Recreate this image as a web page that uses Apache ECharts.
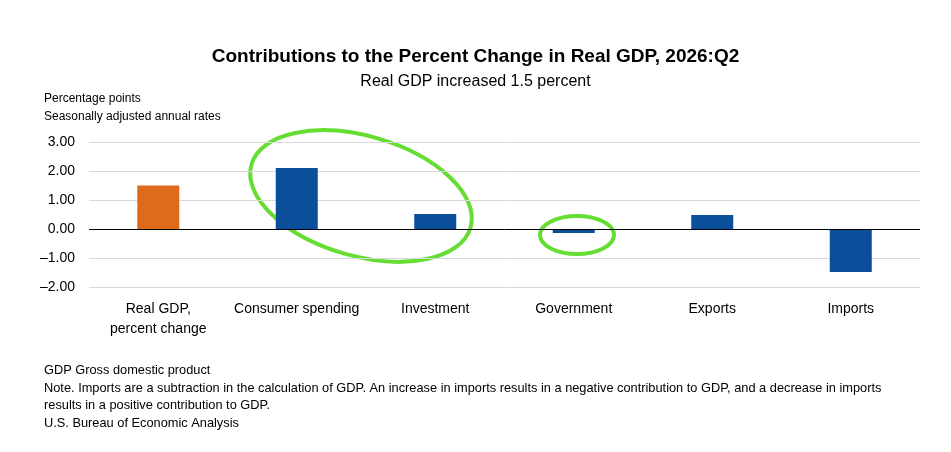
<!DOCTYPE html>
<html><head><meta charset="utf-8">
<script src="https://cdn.jsdelivr.net/npm/echarts@6/dist/echarts.min.js"></script>
<style>html,body{margin:0;padding:0;background:#fff}#c{width:951px;height:452px}</style>
</head><body><div id="c"></div>
<script>
var categories = ['Real GDP,\npercent change', 'Consumer spending', 'Investment', 'Government', 'Exports', 'Imports'];
var values = [1.5, 2.1, 0.52, -0.14, 0.48, -1.48];
var colors = ['#e06a1b', '#0b4f9c', '#0b4f9c', '#0b4f9c', '#0b4f9c', '#0b4f9c'];
var notes = [
  'GDP Gross domestic product',
  'Note. Imports are a subtraction in the calculation of GDP. An increase in imports results in a negative contribution to GDP, and a decrease in imports',
  'results in a positive contribution to GDP.',
  'U.S. Bureau of Economic Analysis'
];
var font = 'Liberation Sans';
var chart = echarts.init(document.getElementById('c'));
chart.setOption({
  backgroundColor: '#fff',
  textStyle: { fontFamily: font },
  title: {
    text: 'Contributions to the Percent Change in Real GDP, 2026:Q2',
    subtext: 'Real GDP increased 1.5 percent',
    left: 'center', top: 42, itemGap: 8,
    textStyle: { fontSize: 19, fontWeight: 'bold', color: '#000', fontFamily: font },
    subtextStyle: { fontSize: 16, color: '#000', fontFamily: font }
  },
  grid: { left: 89, right: 31, top: 142, height: 145 },
  xAxis: {
    type: 'category', data: categories,
    axisLine: { show: false }, axisTick: { show: false },
    axisLabel: { color: '#000', fontSize: 14, margin: 12, lineHeight: 20, interval: 0 }
  },
  yAxis: {
    type: 'value', min: -2, max: 3, interval: 1,
    axisLine: { show: false }, axisTick: { show: false },
    splitLine: { lineStyle: { color: '#d9d9d9' } },
    axisLabel: { color: '#000', fontSize: 14, margin: 14,
      formatter: function (v) { return (v < 0 ? '\u2013' + (-v).toFixed(2) : v.toFixed(2)); } }
  },
  series: [{
    type: 'bar', barWidth: 42,
    data: values.map(function (v, i) { return { value: v, itemStyle: { color: colors[i] } }; }),
    markLine: { silent: true, symbol: 'none', label: { show: false },
      lineStyle: { color: '#000', type: 'solid', width: 1 }, data: [{ yAxis: 0 }] }
  }],
  graphic: [
    { type: 'text', left: 44, top: 90, style: { text: 'Percentage points\nSeasonally adjusted annual rates', fontSize: 12, lineHeight: 18, fill: '#000', fontFamily: font } },
    { type: 'text', left: 44, top: 362, style: { text: notes.join('\n'), fontSize: 12.8, lineHeight: 17.5, fill: '#000', fontFamily: font } },
    { type: 'ellipse', shape: { cx: 0, cy: 0, rx: 114, ry: 60 }, x: 361, y: 196, rotation: -0.28,
      style: { fill: 'none', stroke: '#66dd33', lineWidth: 4 } },
    { type: 'ellipse', shape: { cx: 0, cy: 0, rx: 37, ry: 19 }, x: 577, y: 235,
      style: { fill: 'none', stroke: '#66dd33', lineWidth: 4 } }
  ]
});
</script></body></html>
